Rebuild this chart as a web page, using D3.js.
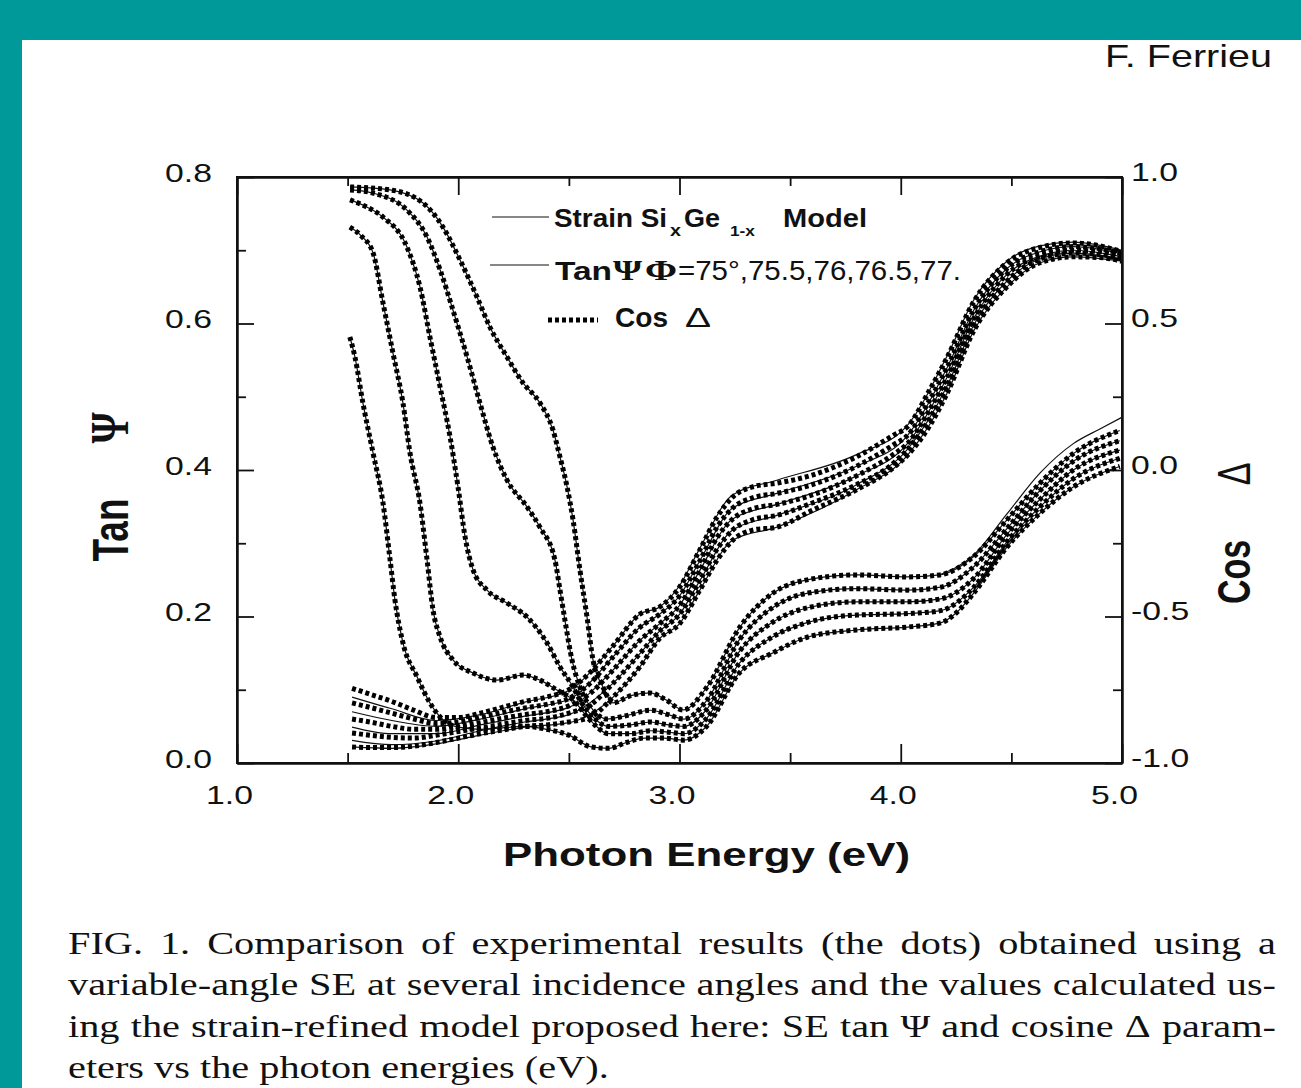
<!DOCTYPE html>
<html>
<head>
<meta charset="utf-8">
<script src="https://cdn.jsdelivr.net/npm/d3@7"></script>
<style>
  body { margin: 0; background: #fff; }
  text { font-family: "Liberation Sans", Arial, sans-serif; fill: #111; }
</style>
</head>
<body>
<svg id="chart" width="1301" height="1088"></svg>
<script>
// ---- data ----
// tan psi, measured (left axis), one value per energy below
var energyTan = [1.52,1.6,1.7,1.8,1.9,2.0,2.1,2.2,2.3,2.4,2.5,2.6,2.7,2.82,2.91,3.0,3.09,3.17,3.24,3.33,3.44,3.6,3.8,3.97,4.03,4.13,4.21,4.33,4.48,4.63,4.78,4.9,5.0];
var tan77   = [.102,.094,.084,.072,.062,.062,.068,.076,.084,.090,.100,.125,.160,.203,.213,.240,.290,.336,.363,.377,.382,.393,.418,.448,.459,.509,.554,.630,.683,.704,.710,.706,.698];
var tan76_5 = [.082,.076,.068,.060,.054,.056,.062,.069,.075,.080,.088,.110,.145,.185,.203,.228,.275,.322,.348,.362,.368,.380,.405,.435,.447,.495,.540,.618,.675,.698,.705,.702,.695];
var tan76   = [.060,.056,.050,.046,.046,.050,.055,.061,.066,.070,.078,.096,.127,.167,.190,.215,.262,.308,.333,.347,.353,.366,.392,.422,.436,.482,.527,.607,.667,.692,.700,.698,.691];
var tan75_5 = [.041,.038,.035,.034,.038,.043,.048,.053,.058,.061,.068,.080,.109,.149,.180,.203,.248,.292,.318,.332,.338,.355,.380,.410,.428,.470,.515,.598,.658,.688,.696,.694,.688];
var tan75   = [.022,.021,.021,.023,.028,.034,.040,.045,.050,.052,.056,.063,.090,.131,.170,.190,.235,.277,.304,.318,.322,.345,.373,.404,.420,.460,.505,.590,.650,.683,.691,.690,.685];

// tan psi, strain model (solid lines), [energy, value]
var modelTan77   = [[1.52,.090],[1.7,.074],[1.9,.058],[2.1,.066],[2.3,.083],[2.5,.099],[2.7,.160],[2.82,.203],[2.91,.213],[3.0,.242],[3.09,.292],[3.24,.366],[3.44,.386],[3.8,.421],[4.03,.461],[4.21,.556],[4.33,.632],[4.48,.685],[4.63,.706],[4.78,.711],[5.0,.700]];
var modelTan76_5 = [[1.52,.070],[1.7,.058],[1.9,.050],[2.1,.060],[2.3,.074],[2.5,.087],[2.7,.145],[2.82,.185],[2.91,.203],[3.0,.228],[3.09,.275],[3.24,.348],[3.44,.368],[3.8,.405],[4.03,.447],[4.21,.540],[4.33,.618],[4.48,.675],[4.63,.698],[4.78,.705],[5.0,.695]];
var modelTan76   = [[1.52,.049],[1.7,.040],[1.9,.040],[2.1,.052],[2.3,.064],[2.5,.076],[2.7,.127],[2.82,.167],[2.91,.190],[3.0,.215],[3.09,.262],[3.24,.333],[3.44,.353],[3.8,.392],[4.03,.436],[4.21,.527],[4.33,.607],[4.48,.667],[4.63,.692],[4.78,.700],[5.0,.691]];
var modelTan75_5 = [[1.52,.031],[1.7,.025],[1.9,.030],[2.1,.044],[2.3,.056],[2.5,.066],[2.7,.109],[2.82,.149],[2.91,.180],[3.0,.203],[3.09,.248],[3.24,.318],[3.44,.338],[3.8,.380],[4.03,.428],[4.21,.515],[4.33,.598],[4.48,.658],[4.63,.688],[4.78,.696],[5.0,.688]];
var modelTan75   = [[1.52,.022],[1.7,.020],[1.9,.026],[2.1,.038],[2.3,.049],[2.5,.055],[2.7,.090],[2.82,.131],[2.91,.170],[3.0,.190],[3.09,.235],[3.24,.304],[3.44,.322],[3.8,.373],[4.03,.420],[4.21,.505],[4.33,.590],[4.48,.650],[4.63,.683],[4.78,.691],[5.0,.685]];

// cos delta, measured (right axis), [energy, value]
var cos75 = [[1.51,.454],[1.533,.386],[1.569,.229],[1.615,.058],[1.66,-.113],[1.692,-.307],[1.714,-.444],[1.75,-.59],[1.814,-.706],[1.872,-.795],[1.918,-.843],[1.994,-.877],[2.1,-.885],[2.2,-.88],[2.3,-.875],[2.4,-.885],[2.5,-.905],[2.6,-.945],[2.68,-.95],[2.76,-.93],[2.84,-.915],[2.93,-.915],[3.02,-.922],[3.12,-.877],[3.27,-.693],[3.42,-.625],[3.58,-.57],[3.8,-.546],[4.03,-.536],[4.18,-.522],[4.25,-.488],[4.33,-.42],[4.48,-.263],[4.63,-.147],[4.78,-.058],[4.99,.012]];
var cos75_5 = [[1.51,.829],[1.56,.80],[1.615,.741],[1.66,.57],[1.705,.399],[1.75,.229],[1.782,.058],[1.827,-.113],[1.859,-.307],[1.886,-.478],[1.918,-.57],[1.976,-.648],[2.067,-.693],[2.175,-.717],[2.293,-.70],[2.369,-.717],[2.446,-.751],[2.519,-.785],[2.595,-.853],[2.68,-.90],[2.78,-.90],[2.87,-.89],[2.95,-.895],[3.02,-.90],[3.12,-.85],[3.27,-.66],[3.42,-.57],[3.58,-.52],[3.8,-.495],[4.03,-.49],[4.18,-.48],[4.33,-.40],[4.48,-.245],[4.63,-.125],[4.78,-.03],[4.99,.04]];
var cos76 = [[1.511,.922],[1.58,.90],[1.66,.863],[1.768,.761],[1.827,.625],[1.872,.454],[1.918,.283],[1.963,.113],[1.999,-.058],[2.031,-.229],[2.067,-.341],[2.13,-.41],[2.22,-.454],[2.311,-.502],[2.401,-.59],[2.46,-.672],[2.519,-.741],[2.55,-.785],[2.609,-.843],[2.68,-.875],[2.78,-.87],[2.87,-.86],[2.95,-.87],[3.02,-.875],[3.12,-.82],[3.27,-.62],[3.42,-.52],[3.58,-.47],[3.8,-.45],[4.03,-.45],[4.18,-.44],[4.33,-.37],[4.48,-.22],[4.63,-.10],[4.78,0],[4.99,.068]];
var cos76_5 = [[1.511,.956],[1.615,.945],[1.768,.887],[1.859,.795],[1.918,.683],[1.976,.546],[2.04,.386],[2.098,.229],[2.157,.078],[2.22,-.034],[2.311,-.126],[2.369,-.195],[2.437,-.307],[2.46,-.41],[2.482,-.512],[2.514,-.648],[2.55,-.741],[2.609,-.819],[2.672,-.85],[2.75,-.84],[2.87,-.82],[2.95,-.835],[3.02,-.85],[3.12,-.79],[3.27,-.58],[3.42,-.47],[3.58,-.42],[3.8,-.405],[4.03,-.41],[4.18,-.40],[4.33,-.33],[4.48,-.20],[4.63,-.07],[4.78,.03],[4.99,.10]];
var cos77 = [[1.511,.966],[1.692,.956],[1.841,.911],[1.931,.829],[2.008,.717],[2.085,.59],[2.143,.488],[2.22,.386],[2.293,.297],[2.369,.229],[2.428,.137],[2.46,.044],[2.492,-.058],[2.519,-.171],[2.55,-.341],[2.582,-.502],[2.609,-.648],[2.654,-.741],[2.699,-.795],[2.78,-.77],[2.867,-.761],[2.94,-.785],[3.016,-.819],[3.124,-.741],[3.273,-.536],[3.423,-.42],[3.576,-.375],[3.802,-.358],[4.028,-.365],[4.177,-.358],[4.327,-.297],[4.48,-.17],[4.629,-.045],[4.778,.055],[4.99,.135]];
// model line of the 77 deg cos delta, where it leaves the dots
var modelCos77Tail = [[4.177,-.358],[4.33,-.29],[4.48,-.15],[4.63,-.01],[4.78,.09],[4.9,.14],[5.0,.18]];

// ticks
var xMajor = [1, 2, 3, 4, 5];
var xMajorLabels = ["1.0", "2.0", "3.0", "4.0", "5.0"];
var xMinor = [1.5, 2.5, 3.5, 4.5];
var leftMajor = [0, 0.2, 0.4, 0.6, 0.8];
var leftLabels = ["0.0", "0.2", "0.4", "0.6", "0.8"];
var leftMinor = [0.1, 0.3, 0.5, 0.7];
var rightMajor = [-1, -0.5, 0, 0.5, 1];
var rightLabels = ["-1.0", "-0.5", "0.0", "0.5", "1.0"];
var rightMinor = [-0.75, -0.25, 0.25, 0.75];

var captionLines = [
  "FIG. 1. Comparison of experimental results (the dots) obtained using a",
  "variable-angle SE at several incidence angles and the values calculated us-",
  "ing the strain-refined model proposed here: SE tan \u03A8 and cosine \u0394 param-",
  "eters vs the photon energies (eV)."
];

// ---- drawing ----
var svg = d3.select('#chart');
var L = 237, R = 1122, T = 177, B = 763;
var STRETCH = 1.35; // the scanned figure is wider than tall

var x = d3.scaleLinear().domain([1, 5]).range([L, R]);
var yL = d3.scaleLinear().domain([0, 0.8]).range([B, T]);
var yR = d3.scaleLinear().domain([-1, 1]).range([B, T]);

svg.append('rect').attr('width', 1301).attr('height', 1088).attr('fill', '#fff');
svg.append('rect').attr('x', 0).attr('y', 0).attr('width', 1301).attr('height', 40).attr('fill', '#009999');
svg.append('rect').attr('x', 0).attr('y', 0).attr('width', 22).attr('height', 1088).attr('fill', '#009999');

svg.append('text').attr('x', 1105).attr('y', 67)
  .attr('textLength', 167).attr('lengthAdjust', 'spacingAndGlyphs')
  .style('font-size', '32px').text('F. Ferrieu');

function stretch(sel, k) {
  sel.each(function() {
    var w = this.getComputedTextLength();
    d3.select(this).attr('textLength', w * k).attr('lengthAdjust', 'spacingAndGlyphs');
  });
}

function styleAxis(g) {
  g.select('.domain').attr('stroke', '#111').attr('stroke-width', 2);
  g.selectAll('.tick line').attr('stroke', '#111').attr('stroke-width', 1.8);
}

// bottom
var gb = svg.append('g').attr('transform', 'translate(0,' + B + ')')
  .call(d3.axisBottom(x).tickValues(xMajor).tickSizeInner(-19).tickSizeOuter(0).tickPadding(23)
    .tickFormat(function(d, i) { return xMajorLabels[i]; }));
svg.append('g').attr('transform', 'translate(0,' + B + ')')
  .call(d3.axisBottom(x).tickValues(xMinor).tickSizeInner(-10).tickSizeOuter(0).tickFormat(''))
  .call(styleAxis);
gb.call(styleAxis);
gb.selectAll('text').attr('x', -8).attr('fill', '#111')
  .style('font-size', '25px').style('font-family', '"Liberation Sans", Arial, sans-serif');
stretch(gb.selectAll('text'), STRETCH);

// top
svg.append('g').attr('transform', 'translate(0,' + T + ')')
  .call(d3.axisTop(x).tickValues(xMajor).tickSizeInner(-18).tickSizeOuter(0).tickFormat(''))
  .call(styleAxis);
svg.append('g').attr('transform', 'translate(0,' + T + ')')
  .call(d3.axisTop(x).tickValues(xMinor).tickSizeInner(-9).tickSizeOuter(0).tickFormat(''))
  .call(styleAxis);

// left
var gl = svg.append('g').attr('transform', 'translate(' + L + ',0)')
  .call(d3.axisLeft(yL).tickValues(leftMajor).tickSizeInner(-17).tickSizeOuter(0).tickPadding(25)
    .tickFormat(function(d, i) { return leftLabels[i]; }));
svg.append('g').attr('transform', 'translate(' + L + ',0)')
  .call(d3.axisLeft(yL).tickValues(leftMinor).tickSizeInner(-9).tickSizeOuter(0).tickFormat(''))
  .call(styleAxis);
gl.call(styleAxis);
gl.selectAll('text').attr('y', -4).attr('fill', '#111')
  .style('font-size', '25px').style('font-family', '"Liberation Sans", Arial, sans-serif');
stretch(gl.selectAll('text'), STRETCH);

// right
var gr = svg.append('g').attr('transform', 'translate(' + R + ',0)')
  .call(d3.axisRight(yR).tickValues(rightMajor).tickSizeInner(-17).tickSizeOuter(0).tickPadding(9)
    .tickFormat(function(d, i) { return rightLabels[i]; }));
svg.append('g').attr('transform', 'translate(' + R + ',0)')
  .call(d3.axisRight(yR).tickValues(rightMinor).tickSizeInner(-9).tickSizeOuter(0).tickFormat(''))
  .call(styleAxis);
gr.call(styleAxis);
gr.selectAll('text').attr('y', -5).attr('fill', '#111')
  .style('font-size', '25px').style('font-family', '"Liberation Sans", Arial, sans-serif');
stretch(gr.selectAll('text'), STRETCH);

// axis titles
svg.append('text').attr('x', 503).attr('y', 866)
  .attr('textLength', 407).attr('lengthAdjust', 'spacingAndGlyphs')
  .style('font-size', '34px').style('font-weight', 'bold').text('Photon Energy (eV)');

function vlabel(txt, bx, cy, size, family, weight) {
  svg.append('text')
    .attr('transform', 'translate(' + bx + ',' + cy + ') scale(' + STRETCH + ',1) rotate(-90)')
    .attr('text-anchor', 'middle')
    .style('font-size', size + 'px').style('font-family', family).style('font-weight', weight)
    .text(txt);
}
vlabel('Tan', 128, 530, 37, '"Liberation Sans", Arial, sans-serif', 'bold');
vlabel('\u03A8', 128, 428, 40, '"Liberation Serif", "Times New Roman", serif', 'bold');
vlabel('Cos', 1250, 572, 34, '"Liberation Sans", Arial, sans-serif', 'bold');
vlabel('\u0394', 1250, 474, 34, '"Liberation Sans", Arial, sans-serif', 'normal');

// curves
var plot = svg.append('g');
var lineL = d3.line().x(function(d) { return x(d[0]); }).y(function(d) { return yL(d[1]); }).curve(d3.curveMonotoneX);
var lineR = d3.line().x(function(d) { return x(d[0]); }).y(function(d) { return yR(d[1]); }).curve(d3.curveMonotoneX);

function pairs(vals) { return energyTan.map(function(e, i) { return [e, vals[i]]; }); }

var tanSeries = [tan75, tan75_5, tan76, tan76_5, tan77].map(pairs);
var tanModels = [modelTan75, modelTan75_5, modelTan76, modelTan76_5, modelTan77];
var cosSeries = [cos75, cos75_5, cos76, cos76_5, cos77];

function solid(path) {
  return path.attr('fill', 'none').attr('stroke', '#111').attr('stroke-width', 1.2);
}
function dotted(path) {
  return path.attr('fill', 'none').attr('stroke', '#000').attr('stroke-width', 5)
    .attr('stroke-dasharray', '4 3').attr('stroke-linecap', 'butt');
}

tanModels.forEach(function(m) { solid(plot.append('path').attr('d', lineL(m))); });
cosSeries.forEach(function(c) { solid(plot.append('path').attr('d', lineR(c))); });
solid(plot.append('path').attr('d', lineR(modelCos77Tail)));

tanSeries.forEach(function(s) { dotted(plot.append('path').attr('d', lineL(s))); });
cosSeries.forEach(function(c) { dotted(plot.append('path').attr('d', lineR(c))); });

// frame on top
svg.append('rect').attr('x', L).attr('y', T).attr('width', R - L).attr('height', B - T)
  .attr('fill', 'none').attr('stroke', '#111').attr('stroke-width', 2);

// legend
var lg = svg.append('g');
solid(lg.append('line').attr('x1', 492).attr('x2', 549).attr('y1', 217).attr('y2', 217));
solid(lg.append('line').attr('x1', 490).attr('x2', 549).attr('y1', 265).attr('y2', 265));
dotted(lg.append('line').attr('x1', 548).attr('x2', 598).attr('y1', 320).attr('y2', 320));

function ltext(str, x0, w, yb, size, weight, family) {
  lg.append('text').attr('x', x0).attr('y', yb)
    .attr('textLength', w).attr('lengthAdjust', 'spacingAndGlyphs')
    .style('font-size', size + 'px').style('font-weight', weight)
    .style('font-family', family || '"Liberation Sans", Arial, sans-serif')
    .text(str);
}
var serif = '"Liberation Serif", "Times New Roman", serif';
ltext('Strain Si', 554, 113, 227, 26, 'bold');
ltext('x', 670, 11, 236, 16, 'bold');
ltext('Ge', 684, 36, 227, 26, 'bold');
ltext('1-x', 730, 25, 236, 15, 'bold');
ltext('Model', 783, 84, 227, 26, 'bold');
ltext('Tan', 555, 57, 280, 26, 'bold');
ltext('\u03A8', 613, 29, 280, 30, 'bold', serif);
ltext('\u03A6', 645, 32, 280, 30, 'bold', serif);
ltext('=75\u00B0,75.5,76,76.5,77.', 678, 283, 280, 27, 'normal');
ltext('Cos', 615, 53, 327, 27, 'bold');
ltext('\u0394', 685, 26, 327, 28, 'normal');

// caption, justified
var cap = svg.append('g').attr('transform', 'translate(68,0) scale(1.3,1)');
var capWidth = (1276 - 68) / 1.3;
var capBase = [954, 995.5, 1037, 1078.5];
captionLines.forEach(function(line, li) {
  var words = line.split(' ');
  var widths = words.map(function(w) {
    var t = cap.append('text').style('font-family', serif).style('font-size', '31px').text(w);
    var len = t.node().getComputedTextLength();
    t.remove();
    return len;
  });
  var total = d3.sum(widths);
  var gap = li < captionLines.length - 1 ? (capWidth - total) / (words.length - 1) : 7.75;
  var cx = 0;
  words.forEach(function(w, i) {
    cap.append('text').attr('x', cx).attr('y', capBase[li])
      .style('font-family', serif).style('font-size', '31px').text(w);
    cx += widths[i] + gap;
  });
});
</script>
</body>
</html>
